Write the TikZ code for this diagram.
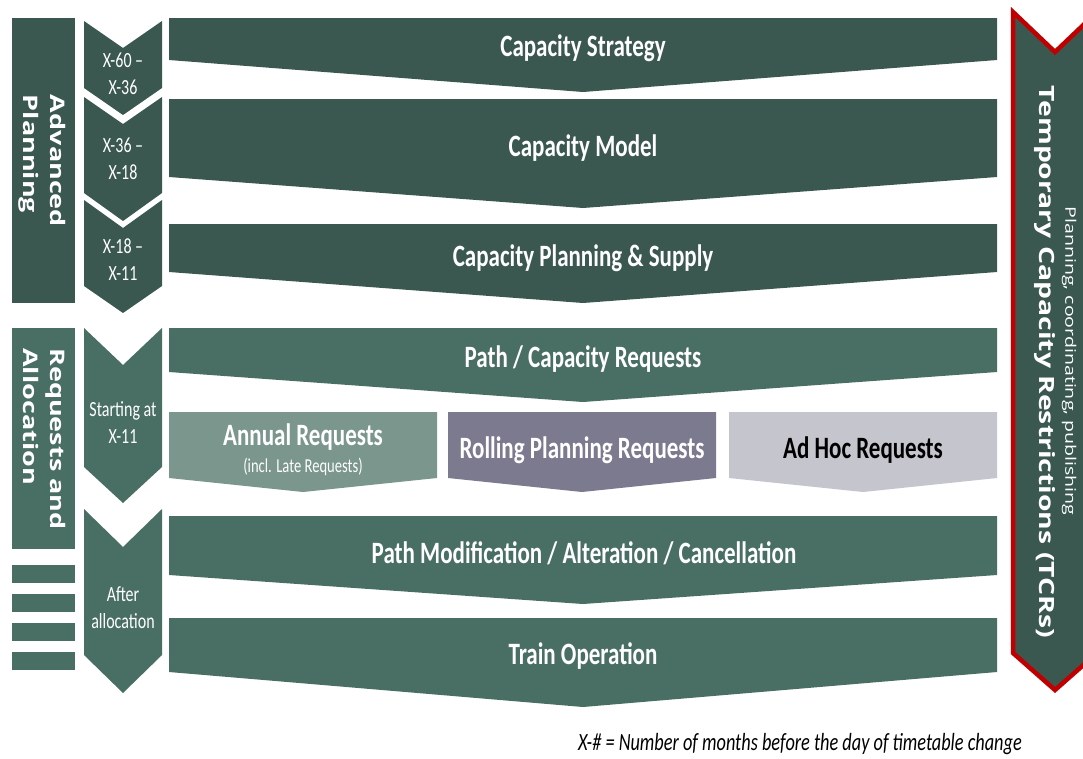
\documentclass[tikz,border=0pt]{standalone}
\usepackage{fontspec}
\usepackage{graphicx}
\setmainfont{Carlito}
\newfontfamily\widefont{Open Sans}
\usetikzlibrary{calc}
\definecolor{G0}{RGB}{ 58, 88, 80}
\definecolor{G1}{RGB}{ 73,111,100}
\definecolor{G2}{RGB}{122,150,141}
\definecolor{P0}{RGB}{124,122,142}
\definecolor{P1}{RGB}{197,197,206}
\definecolor{R0}{RGB}{192,  0,  0}

%% slide lettering is drawn taller than wide
\newcommand{\tallbox}[1]{\scalebox{1}[1.35]{#1}}
\newcommand{\longbox}[1]{\scalebox{1.35}[1]{#1}}

\begin{document}
\begin{tikzpicture}[x=1pt, y=-1pt,
    title/.style={text=white, inner sep=0pt, font=\bfseries\fontsize{23}{27}\selectfont},
    period/.style={text=white, inner sep=0pt, font=\fontsize{16}{20}\selectfont},
    phase/.style={text=white, inner sep=0pt, rotate=-90, font=\widefont\bfseries\fontsize{20}{27}\selectfont}]

    \path[fill=white, use as bounding box] (0,0) rectangle (1083,758);

    %% Phase bars (left)
    \fill[G0] (12,18) rectangle (75,303);
    \fill[G1] (12,328) rectangle (75,549);
    \foreach \ya in {565,594,623,652}
        \fill[G1] (12,\ya) rectangle (75,\ya+18);

    \node[phase] (advplan) at (42,161) {\longbox{\begin{tabular}{@{}l@{}}Advanced\\Planning\end{tabular}}};
    \node[phase] (reqalloc) at (42,439) {\longbox{\begin{tabular}{@{}l@{}}Requests and\\Allocation\end{tabular}}};

    %% Time chevrons
    \foreach \ya/\yb/\yc/\yd/\col in {21/48/88/115/G0, 97/124/193/221/G0, 200/228/286/313/G0,
                                     328/365/467/503/G1, 509/547/655/693/G1}
        \fill[\col] (84,\ya) -- (123,\yb) -- (162,\ya) -- (162,\yc) -- (123,\yd) -- (84,\yc) -- cycle;

    \node[period] (t1) at (123,76) {\tallbox{\begin{tabular}{@{}c@{}}X-60 --\\X-36\end{tabular}}};
    \node[period] (t2) at (123,161) {\tallbox{\begin{tabular}{@{}c@{}}X-36 --\\X-18\end{tabular}}};
    \node[period] (t3) at (123,262) {\tallbox{\begin{tabular}{@{}c@{}}X-18 --\\X-11\end{tabular}}};
    \node[period] (t4) at (123,425) {\tallbox{\begin{tabular}{@{}c@{}}Starting at\\X-11\end{tabular}}};
    \node[period] (t5) at (123,610) {\tallbox{\begin{tabular}{@{}c@{}}After\\allocation\end{tabular}}};

    %% Process bands
    \foreach \ya/\yb/\yc/\col in {18/60/92/G0, 99/177/208/G0, 224/272/303/G0,
                                  328/372/402/G1, 516/575/604/G1, 618/672/707/G1}
        \fill[\col] (169,\ya) -- (997,\ya) -- (997,\yb) -- (583,\yc) -- (169,\yb) -- cycle;

    %% Request types
    \fill[G2] (169,412) -- (437,412) -- (437,478) -- (303,492) -- (169,478) -- cycle;
    \fill[P0] (448,412) -- (716,412) -- (716,478) -- (582,492) -- (448,478) -- cycle;
    \fill[P1] (729,412) -- (997,412) -- (997,478) -- (863,492) -- (729,478) -- cycle;

    \node[title] (strategy) at (583,48) {\tallbox{Capacity Strategy}};
    \node[title] (model) at (583,148) {\tallbox{Capacity Model}};
    \node[title] (supply) at (583,258) {\tallbox{Capacity Planning \& Supply}};
    \node[title] (pathreq) at (583,359) {\tallbox{Path / Capacity Requests}};
    \node[title] (annual) at (303,437) {\tallbox{Annual Requests}};
    \node[text=white, inner sep=0pt, font=\fontsize{14.6}{16}\selectfont] (late) at (303,467) {\tallbox{(incl. Late Requests)}};
    \node[title] (rolling) at (582,450) {\tallbox{Rolling Planning Requests}};
    \node[title, text=black] (adhoc) at (863,450) {\tallbox{Ad Hoc Requests}};
    \node[title] (modify) at (584,553) {\tallbox{Path Modification / Alteration / Cancellation}};
    \node[title] (operation) at (583,656) {\tallbox{Train Operation}};

    %% TCR arrow (right)
    \begin{scope}
        \clip (0,0) rectangle (1083,758);
        \filldraw[fill=G0, draw=R0, line width=4.5pt, line join=miter]
            (1013,12) -- (1055,52) -- (1097,12) -- (1097,653) -- (1055,690) -- (1013,653) -- cycle;
    \end{scope}
    \node[text=white, inner sep=0pt, rotate=-90, font=\widefont\fontsize{14.5}{17}\selectfont] (tcrnote) at (1069,361)
        {\longbox{Planning, coordinating, publishing}};
    \node[text=white, inner sep=0pt, rotate=-90, font=\widefont\bfseries\fontsize{21}{25}\selectfont] (tcr) at (1045,362)
        {\longbox{Temporary Capacity Restrictions (TCRs)}};

    %% Footnote
    \node[anchor=east, inner sep=0pt, font=\itshape\fontsize{18.3}{20}\selectfont] (note) at (1022,744)
        {\tallbox{X-\# = Number of months before the day of timetable change}};

\end{tikzpicture}
\end{document}
